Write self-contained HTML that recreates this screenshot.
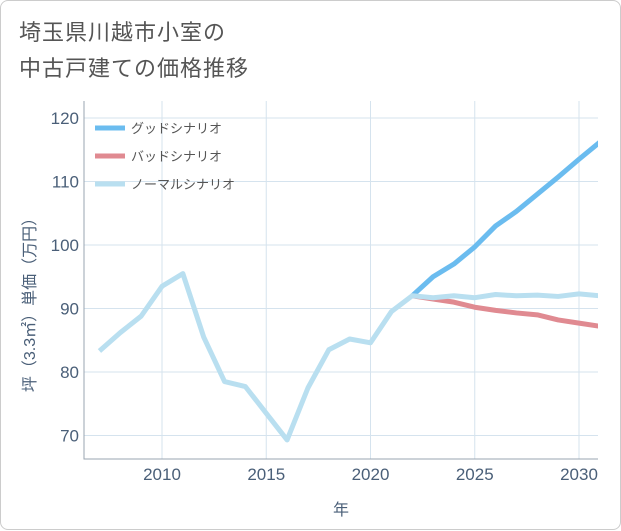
<!DOCTYPE html>
<html><head><meta charset="utf-8"><style>
body{margin:0;background:#fff;font-family:"Liberation Sans","Noto Sans CJK JP",sans-serif}
#card{position:absolute;left:0;top:0;width:619px;height:528px;border:1px solid #ccc;border-radius:8px;background:#fff}
#title{position:absolute;left:18px;top:14px;font-size:22px;line-height:36px;color:#555;letter-spacing:1px}
svg text{font-family:"Liberation Sans","Noto Sans CJK JP",sans-serif}
</style></head><body>
<div id="card">
<div id="title">埼玉県川越市小室の<br>中古戸建ての価格推移</div>
<svg id="chart" width="621" height="530" style="position:absolute;left:0;top:0">
<defs><clipPath id="plotclip"><rect x="83" y="100" width="514" height="358"/></clipPath></defs>
</svg>
</div>
<script>
const normalYears=[2007,2008,2009,2010,2011,2012,2013,2014,2015,2016,2017,2018,2019,2020,2021,2022,2023,2024,2025,2026,2027,2028,2029,2030,2031];
const normalVals=[83.3,86.2,88.8,93.5,95.5,85.5,78.5,77.7,73.5,69.3,77.5,83.5,85.2,84.6,89.5,92,91.7,92,91.7,92.2,92,92.1,91.9,92.3,92];
const goodYears=[2022,2023,2024,2025,2026,2027,2028,2029,2030,2031];
const goodVals=[92,95,97,99.7,103,105.3,108,110.7,113.5,116.2];
const badYears=[2022,2023,2024,2025,2026,2027,2028,2029,2030,2031];
const badVals=[92,91.5,91,90.2,89.7,89.3,89,88.2,87.7,87.2];
const xTicks=[2010,2015,2020,2025,2030];
const yTicks=[70,80,90,100,110,120];
const legendLabels=["グッドシナリオ","バッドシナリオ","ノーマルシナリオ"];
const L=83,R=597,T=100,B=458;
const x=v=>161+(v-2010)*20.85;
const y=v=>117+(120-v)*6.35;
const svg=document.getElementById('chart');
const NS='http://www.w3.org/2000/svg';
function mk(t,a){const e=document.createElementNS(NS,t);for(const k in a)e.setAttribute(k,a[k]);svg.appendChild(e);return e;}
xTicks.forEach(v=>{
const l=mk('line',{x1:x(v),x2:x(v),y1:T,y2:B,stroke:'#d5e3ee','stroke-width':1});


const t=mk('text',{x:x(v),y:479,'text-anchor':'middle','font-size':17,fill:'#4a5f78'});t.textContent=v;


});
yTicks.forEach(v=>{
const l=mk('line',{x1:L,x2:R,y1:y(v),y2:y(v),stroke:'#d5e3ee','stroke-width':1});


const t=mk('text',{x:L-5,y:y(v)+6,'text-anchor':'end','font-size':17,fill:'#4a5f78'});t.textContent=v;


});
const ax=mk('path',{d:`M${L},${T}V${B}H${R}`,fill:'none',stroke:'#9aa4b0','stroke-width':1});


function series(xs,vs,c,name){
const p=mk('polyline',{points:xs.map((v,i)=>x(v)+','+y(vs[i])).join(' '),fill:'none',stroke:c,'stroke-width':5,'stroke-linejoin':'round','clip-path':'url(#plotclip)'});

}
series(goodYears,goodVals,'#6bbcef','good-scenario-line');
series(badYears,badVals,'#e08a91','bad-scenario-line');
series(normalYears,normalVals,'#b9dff0','normal-scenario-line');
const cols=['#6bbcef','#e08a91','#b9dff0'];
legendLabels.forEach((s,i)=>{
const yy=127+i*28;
const l=mk('line',{x1:94,x2:124,y1:yy,y2:yy,stroke:cols[i],'stroke-width':5});


const t=mk('text',{x:130,y:yy+5,'font-size':13,fill:'#555'});t.textContent=s;


});
const xt=mk('text',{x:340,y:514,'text-anchor':'middle','font-size':16,fill:'#4a5f78'});xt.textContent='年';


const yt=mk('text',{x:0,y:0,'text-anchor':'middle','font-size':16,fill:'#4a5f78',transform:'translate(34,300) rotate(-90)'});yt.textContent='坪（3.3㎡）単価（万円）';


</script>
</body></html>
